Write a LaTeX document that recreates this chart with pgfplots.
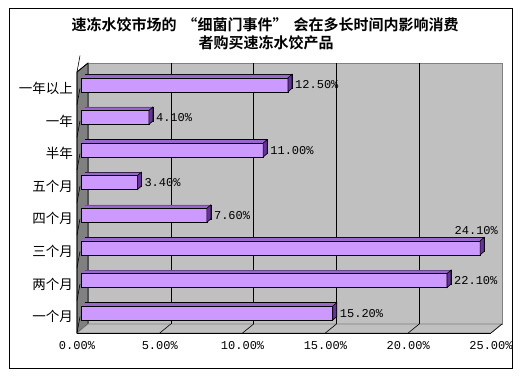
\documentclass[border=0pt]{standalone}
\usepackage{fontspec}
\usepackage{pgfplots}
\usepackage{pgfplotstable}
\pgfplotsset{compat=1.18}
\newfontfamily\cjk{Noto Sans CJK SC}[BoldFont={Noto Sans CJK SC Bold}]
\newfontfamily\lmono{Liberation Mono}
\definecolor{frontc}{HTML}{CC99FF}
\definecolor{topc}{HTML}{9966CC}
\definecolor{sidec}{HTML}{663399}
\definecolor{wallc}{HTML}{C0C0C0}
\definecolor{leftc}{HTML}{808080}

\pgfplotstableread{
idx val
0 15.2
1 22.1
2 24.1
3 7.6
4 3.4
5 11.0
6 4.1
7 12.5
}\data

\pgfdeclareplotmark{sideface}{%
  \pgfpathmoveto{\pgfpoint{4bp}{-3.5bp}}%
  \pgfpathlineto{\pgfpoint{8bp}{0bp}}%
  \pgfpathlineto{\pgfpoint{8bp}{14bp}}%
  \pgfpathlineto{\pgfpoint{4bp}{10.5bp}}%
  \pgfpathclose
  \pgfusepathqfillstroke}

\begin{document}
\begin{tikzpicture}
\useasboundingbox (0,0) rectangle (524bp,376bp);
\fill[white] (0,0) rectangle (524bp,376bp);
\draw[black, line width=0.8bp] (9bp,7.5bp) rectangle (512bp,368bp);
\node[font={\cjk\bfseries\fontsize{15bp}{18bp}\selectfont}, inner sep=0pt] at (265bp,351bp) {速冻水饺市场的\hspace{6bp}“细菌门事件”\hspace{6bp}会在多长时间内影响消费};
\node[font={\cjk\bfseries\fontsize{15bp}{18bp}\selectfont}, inner sep=0pt] at (266bp,333bp) {者购买速冻水饺产品};
\begin{axis}[
  at={(77bp,43bp)}, anchor=south west,
  width=414bp, height=261bp, scale only axis,
  xmin=0, xmax=25, ymin=-0.5, ymax=7.5,
  clip=false,
  axis line style={draw=none},
  tick style={draw=none},
  xtick={0,5,...,25},
  ytick={0,...,7},
  yticklabels={一个月,两个月,三个月,四个月,五个月,半年,一年,一年以上},
  yticklabel style={font={\cjk\fontsize{13.5bp}{16bp}\selectfont}, inner sep=0pt, xshift=-4bp},
  /pgf/number format/assume math mode=true,
  xticklabel={\pgfmathprintnumber[fixed,fixed zerofill,precision=2]{\tick}\%},
  xticklabel style={font={\lmono\fontsize{12bp}{14bp}\selectfont}, inner sep=0pt, anchor=base, yshift=-16bp},
]
% walls
\filldraw[fill=wallc, draw=leftc, line width=0.6bp]
  ([shift={(11bp,9bp)}]axis cs:0,-0.5) rectangle ([shift={(11bp,9bp)}]axis cs:25,7.5);
\filldraw[fill=leftc, draw=black, line width=0.6bp]
  (axis cs:0,-0.5) -- ([shift={(11bp,9bp)}]axis cs:0,-0.5) -- ([shift={(11bp,9bp)}]axis cs:0,7.5) -- (axis cs:0,7.5) -- cycle;
\filldraw[fill=wallc, draw=leftc, line width=0.6bp]
  (axis cs:0,-0.5) -- (axis cs:25,-0.5) -- ([shift={(11bp,9bp)}]axis cs:25,-0.5) -- ([shift={(11bp,9bp)}]axis cs:0,-0.5) -- cycle;
\draw[black, line width=0.7bp] (axis cs:0,-0.5) -- (axis cs:25,-0.5);
\draw[black, line width=0.7bp] (axis cs:0,-0.5) -- (axis cs:0,7.5) -- ([shift={(11bp,9bp)}]axis cs:0,7.5);
\pgfplotsinvokeforeach{5,10,15,20}{
  \draw[black, line width=0.6bp] ([shift={(11bp,9bp)}]axis cs:#1,-0.5) -- ([shift={(11bp,9bp)}]axis cs:#1,7.5);
  \draw[black, line width=0.6bp] ([shift={(11bp,9bp)}]axis cs:#1,-0.5) -- (axis cs:#1,-0.5);
}
\draw[black, line width=0.6bp] ([shift={(11bp,9bp)}]axis cs:25,-0.5) -- (axis cs:25,-0.5);
\pgfplotsinvokeforeach{-0.5,0.5,...,7.5}{
  \draw[black, line width=0.6bp] (axis cs:0,#1) -- ++(3bp,0);
}
% top faces (depth)
\addplot[xbar, bar shift=0pt, bar width=14bp, fill=topc, draw=black, line width=0.6bp,
  xshift=8bp, yshift=7bp] table[x=val, y=idx] {\data};
\pgfplotsinvokeforeach{7,6,...,1}{
\addplot[xbar, bar shift=0pt, bar width=14bp, fill=topc, draw=none,
  xshift={4bp+#1*0.5bp}, yshift={3.5bp+#1*0.4375bp}] table[x=val, y=idx] {\data};
}
% front faces
\addplot[xbar, bar shift=0pt, bar width=14bp, fill=frontc, draw=black, line width=0.6bp,
  xshift=4bp, yshift=3.5bp] table[x=val, y=idx] {\data};
% side faces
\addplot[only marks, mark=sideface, mark options={fill=sidec, draw=black, line width=0.6bp}]
  table[x=val, y=idx] {\data};
% value labels
\addplot[draw=none, mark=none, restrict x to domain=0:24, point meta=x,
  nodes near coords={\pgfmathprintnumber[fixed,fixed zerofill,precision=2]{\pgfplotspointmeta}\%},
  every node near coord/.append style={font={\lmono\fontsize{12bp}{14bp}\selectfont}, inner sep=0pt, anchor=base west, xshift=11bp, yshift=-0.5bp}]
  table[x=val, y=idx] {\data};
\addplot[draw=none, mark=none, restrict x to domain=24:25, point meta=x,
  nodes near coords={\pgfmathprintnumber[fixed,fixed zerofill,precision=2]{\pgfplotspointmeta}\%},
  every node near coord/.append style={font={\lmono\fontsize{12bp}{14bp}\selectfont}, inner sep=0pt, anchor=base east, xshift=22bp, yshift=17.4bp}]
  table[x=val, y=idx] {\data};
\end{axis}
\end{tikzpicture}
\end{document}
